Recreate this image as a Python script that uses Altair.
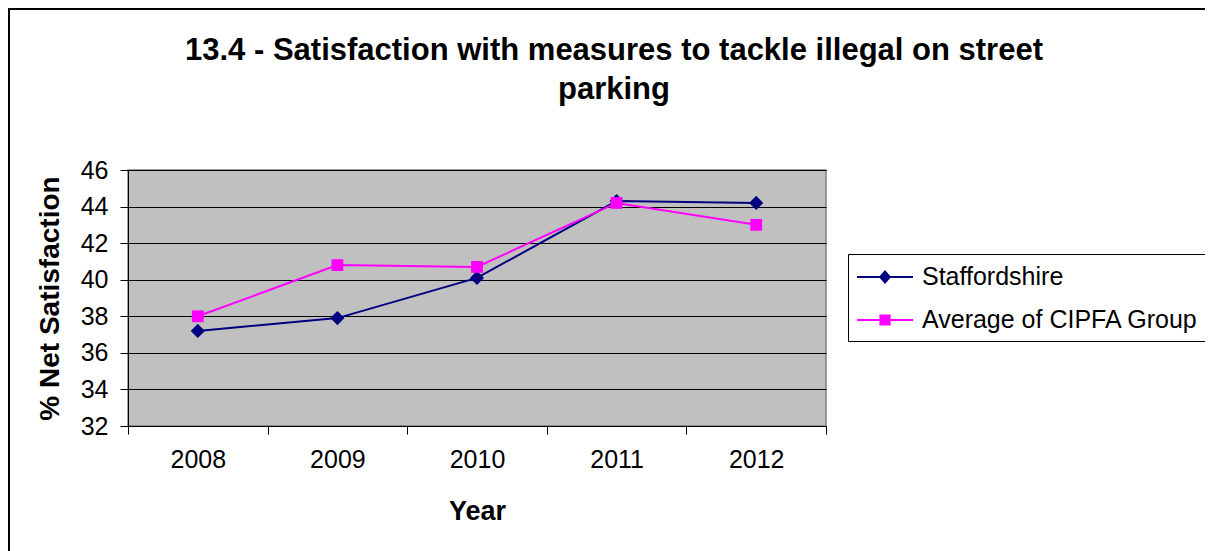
import altair as alt
import pandas as pd

years = ["2008", "2009", "2010", "2011", "2012"]
staffordshire = [37.2, 37.9, 40.1, 44.3, 44.2]
cipfa = [38.0, 40.8, 40.7, 44.2, 43.0]
series_names = ["Staffordshire", "Average of CIPFA Group"]
series_colors = ["#000080", "#FF00FF"]
y_ticks = [32, 34, 36, 38, 40, 42, 44, 46]

rows = []
for y, v in zip(years, staffordshire):
    rows.append({"Year": y, "Series": series_names[0], "Value": v})
for y, v in zip(years, cipfa):
    rows.append({"Year": y, "Series": series_names[1], "Value": v})
df = pd.DataFrame(rows)

FONT = "Liberation Sans"

color_scale = alt.Scale(domain=series_names, range=series_colors)

x_enc = alt.X(
    "Year:N",
    scale=alt.Scale(type="band", paddingInner=0, paddingOuter=0),
    axis=alt.Axis(
        title="Year",
        labelAngle=0,
        tickBand="extent",
        tickSize=8,
        labelPadding=13,
        titlePadding=26,
        titleFontSize=27,
        grid=False,
    ),
)
y_enc = alt.Y(
    "Value:Q",
    scale=alt.Scale(domain=[32, 46], nice=False, zero=False),
    axis=alt.Axis(
        title="% Net Satisfaction",
        values=y_ticks,
        tickSize=8,
        labelPadding=12,
        titlePadding=16,
        titleFontSize=28,
        grid=True,
    ),
)

base = alt.Chart(df)

lines = base.mark_line(strokeWidth=2).encode(
    x=x_enc,
    y=y_enc,
    color=alt.Color("Series:N", scale=color_scale, legend=None),
    detail="Series:N",
)

points = base.transform_calculate(
    shp="datum.Series == 'Staffordshire' ? 'diamond' : 'square'",
    sz="datum.Series == 'Staffordshire' ? 200 : 140",
).mark_point(filled=True, opacity=1).encode(
    x=x_enc,
    y=y_enc,
    color=alt.Color("Series:N", scale=color_scale, legend=None),
    shape=alt.Shape("shp:N", scale=None),
    size=alt.Size("sz:Q", scale=None),
)

legend_paths = [
    "M-1,-0.07H3V0.07H-1Z M1,-0.5L1.44,0L1,0.5L0.56,0Z",
    "M-1,-0.07H3V0.07H-1Z M0.6,-0.4H1.4V0.4H0.6Z",
]

legend_params = alt.Legend(
    title=None,
    orient="none",
    legendX=720,
    legendY=84,
    symbolSize=784,
    symbolOpacity=1,
    labelFontSize=25,
    labelFont=FONT,
    labelColor="black",
    labelLimit=500,
    strokeColor="black",
    fillColor="white",
    padding=8,
    rowPadding=15,
    labelOffset=36,
)

legend_layer = base.mark_point(filled=True, opacity=0).encode(
    x=x_enc,
    y=y_enc,
    color=alt.Color("Series:N", scale=color_scale, legend=legend_params),
    shape=alt.Shape(
        "Series:N",
        scale=alt.Scale(domain=series_names, range=legend_paths),
        legend=legend_params,
    ),
)

frame_src = alt.Chart(alt.Data(values=[{}]))
border_left = frame_src.mark_rule(color="black", strokeWidth=2).encode(
    x=alt.value(-119), y=alt.value(-161), y2=alt.value(420)
)
border_top = frame_src.mark_rule(color="black", strokeWidth=2).encode(
    x=alt.value(-120), x2=alt.value(1077), y=alt.value(-161)
)

chart = alt.layer(border_left, border_top, lines, points, legend_layer).resolve_scale(
    shape="independent", color="independent"
).properties(
    width=698,
    height=256,
    autosize=alt.AutoSizeParams(type="none"),
    padding={"left": 120, "top": 162, "right": 379, "bottom": 125},
    background="white",
    title=alt.TitleParams(
        text=["13.4 - Satisfaction with measures to tackle illegal on street", "parking"],
        font=FONT,
        fontSize=31,
        fontWeight="bold",
        color="black",
        anchor="middle",
        frame="group",
        dx=137,
        dy=98,
        offset=0,
        lineHeight=39,
    ),
).configure_view(
    fill="#C0C0C0", stroke="#808080", strokeWidth=1.5
).configure_axis(
    labelFont=FONT,
    labelFontSize=25,
    labelColor="black",
    titleFont=FONT,
    titleFontWeight="bold",
    titleColor="black",
    domainColor="black",
    tickColor="black",
    gridColor="black",
    gridWidth=1,
    gridOpacity=1,
    domainWidth=1,
    tickWidth=1,
)

chart.save("out.html", embed_options={"renderer": "svg", "actions": False})
